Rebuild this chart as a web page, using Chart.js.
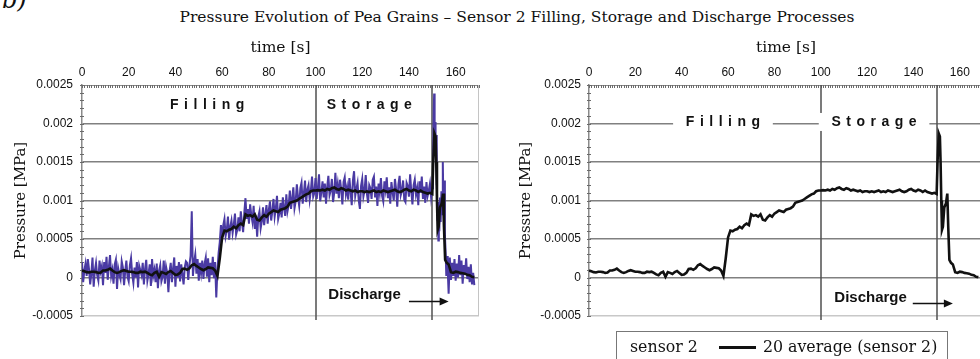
<!DOCTYPE html>
<html>
<head>
<meta charset="utf-8">
<script src="https://cdn.jsdelivr.net/npm/chart.js@4.4.1/dist/chart.umd.min.js"></script>
<style>
  html, body { margin: 0; padding: 0; background: #fff; }
  body { width: 980px; height: 359px; overflow: hidden; position: relative; }
  .box { position: absolute; top: 0; height: 359px; }
  #leftBox { left: 0; width: 490px; }
  #rightBox { left: 490px; width: 510px; }
  #tag { position: absolute; left: 2px; top: -12px; font: italic 24px/24px "DejaVu Serif"; color: #111; }
  #title { position: absolute; left: 517px; top: 7px; transform: translateX(-50%); white-space: nowrap;
           font: 15.5px/20px "DejaVu Serif"; color: #111; }
  #legend { position: absolute; left: 616px; top: 331px; width: 332px; height: 40px; box-sizing: border-box;
            border: 1.5px solid #777; padding: 5px 0 0 13px; font: 15.8px/20px "DejaVu Serif"; color: #111;
            white-space: nowrap; }
  #legend .swatch { display: inline-block; width: 37px; height: 3px; background: #111; vertical-align: middle;
                    margin: 0 7px 0 21px; }
</style>
</head>
<body>
<div id="tag">b)</div>
<div id="title">Pressure Evolution of Pea Grains – Sensor 2 Filling, Storage and Discharge Processes</div>
<div class="box" id="leftBox"><canvas id="leftChart"></canvas></div>
<div class="box" id="rightBox"><canvas id="rightChart"></canvas></div>
<div id="legend"></div>

<script>
// series names
const seriesNames = ['sensor 2', '20 average (sensor 2)'];

// sensor 2 raw signal, one reading every 0.5 s from t = 0 to t = 150 s  [MPa]
const sensorStep = 0.5;
const sensorMain = [
  2.0e-4, -0.6e-4, 0.9e-4, 1.8e-4, 0.2e-4, 2.4e-4, 1.1e-4, -0.9e-4, 0.5e-4, 2.6e-4,
  -1.2e-4, 0.9e-4, 1.9e-4, 0.3e-4, -0.4e-4, 2.2e-4, 0.8e-4, 1.5e-4, -1.0e-4, 2.0e-4,
  0.6e-4, 2.7e-4, -0.3e-4, 1.4e-4, 2.9e-4, 0.2e-4, 1.0e-4, -0.8e-4, 1.7e-4, 2.3e-4,
  -1.5e-4, 1.2e-4, 0.4e-4, -0.2e-4, 2.1e-4, 1.3e-4, -1.0e-4, 0.8e-4, 2.2e-4, 0.1e-4,
  -0.5e-4, 1.6e-4, 2.5e-4, 0.4e-4, -0.7e-4, 1.3e-4, 0, 2.0e-4, -1.3e-4, 1.5e-4,
  0.9e-4, 0.3e-4, 1.9e-4, -0.9e-4, 1.1e-4, 2.3e-4, -0.4e-4, 0.5e-4, 1.7e-4, -1.1e-4,
  2.4e-4, 0.2e-4, 1.0e-4, -0.6e-4, 1.8e-4, -1.4e-4, 0.9e-4, 1.6e-4, -0.5e-4, 0.1e-4,
  2.2e-4, -0.8e-4, 1.4e-4, 0.6e-4, -1.9e-4, 0.8e-4, 1.9e-4, -0.6e-4, 1.2e-4, 2.6e-4,
  -1.2e-4, 1.5e-4, 0, 2.0e-4, -0.5e-4, 1.7e-4, 0.4e-4, -0.9e-4, 1.3e-4, 2.1e-4,
  1.9e-4, -0.3e-4, 1.6e-4, 2.8e-4, 8.6e-4, 0.2e-4, 2.0e-4, 3.0e-4, 0.5e-4, 2.4e-4,
  -0.4e-4, 1.9e-4, 0.6e-4, 2.2e-4, -0.2e-4, 1.8e-4, 2.6e-4, 0.1e-4, 2.5e-4, -0.6e-4,
  1.9e-4, 0.3e-4, 2.7e-4, -0.1e-4, 2.0e-4, -2.6e-4, 1.0e-4, 3.2e-4, 4.6e-4, 6.8e-4,
  5.0e-4, 6.8e-4, 7.6e-4, 5.4e-4, 6.2e-4, 7.9e-4, 4.9e-4, 6.6e-4, 7.4e-4, 5.8e-4,
  6.9e-4, 8.3e-4, 5.6e-4, 6.2e-4, 7.8e-4, 6.0e-4, 8.6e-4, 7.1e-4, 5.9e-4, 8.4e-4,
  10.3e-4, 7.6e-4, 8.9e-4, 7.0e-4, 9.5e-4, 8.1e-4, 7.2e-4, 9.3e-4, 6.3e-4, 8.0e-4,
  5.3e-4, 7.9e-4, 8.6e-4, 6.4e-4, 7.3e-4, 9.1e-4, 6.8e-4, 8.2e-4, 9.4e-4, 7.0e-4,
  8.8e-4, 9.9e-4, 7.4e-4, 8.6e-4, 10.2e-4, 7.9e-4, 9.0e-4, 10.6e-4, 7.6e-4, 8.3e-4,
  9.7e-4, 7.8e-4, 10.4e-4, 9.1e-4, 8.0e-4, 10.8e-4, 8.6e-4, 9.4e-4, 11.3e-4, 8.9e-4,
  10.2e-4, 11.7e-4, 9.0e-4, 9.9e-4, 12.1e-4, 10.4e-4, 9.3e-4, 11.6e-4, 12.3e-4, 9.6e-4,
  10.9e-4, 12.6e-4, 9.8e-4, 11.4e-4, 12.0e-4, 10.1e-4, 11.3e-4, 13.1e-4, 10.5e-4, 11.0e-4,
  12.9e-4, 10.2e-4, 11.6e-4, 13.4e-4, 9.9e-4, 11.1e-4, 12.5e-4, 10.4e-4, 12.2e-4, 9.6e-4,
  11.8e-4, 13.2e-4, 10.7e-4, 11.3e-4, 12.8e-4, 9.8e-4, 11.0e-4, 13.6e-4, 10.9e-4, 12.1e-4,
  10.3e-4, 12.7e-4, 11.4e-4, 9.5e-4, 12.4e-4, 13.0e-4, 10.8e-4, 11.7e-4, 10.1e-4, 12.9e-4,
  11.2e-4, 9.4e-4, 12.6e-4, 13.8e-4, 10.6e-4, 11.5e-4, 12.3e-4, 10.0e-4, 8.9e-4, 11.9e-4,
  12.8e-4, 10.5e-4, 11.3e-4, 13.3e-4, 10.9e-4, 9.7e-4, 12.0e-4, 11.6e-4, 10.2e-4, 12.7e-4,
  13.1e-4, 10.4e-4, 11.8e-4, 9.3e-4, 12.2e-4, 11.0e-4, 12.9e-4, 10.6e-4, 9.9e-4, 12.5e-4,
  11.4e-4, 13.0e-4, 10.3e-4, 11.7e-4, 9.6e-4, 12.4e-4, 11.1e-4, 10.0e-4, 12.8e-4, 11.5e-4,
  9.2e-4, 12.1e-4, 13.2e-4, 10.7e-4, 11.3e-4, 12.6e-4, 10.1e-4, 9.8e-4, 12.3e-4, 11.9e-4,
  10.5e-4, 13.4e-4, 11.2e-4, 9.5e-4, 12.0e-4, 12.7e-4, 10.8e-4, 11.6e-4, 9.4e-4, 12.5e-4,
  11.0e-4, 13.1e-4, 10.2e-4, 11.8e-4, 9.7e-4, 12.4e-4, 10.6e-4, 11.3e-4, 12.2e-4, 10.4e-4,
  11.6e-4
];

// sensor 2 raw signal during discharge (denser readings)
const sensorDischargeTime = [
  150.3, 150.6, 150.8, 151.0, 151.2, 151.4, 151.6, 151.8, 152.0, 152.2, 152.4, 152.6, 152.8,
  153.0, 153.3, 153.6, 153.9, 154.2, 154.5, 154.8, 155.1, 155.4, 155.7, 156.0, 156.3, 156.6,
  157.0, 157.5, 158.0, 158.5, 159.0, 159.5, 160.0, 160.5, 161.0, 161.5, 162.0, 162.5, 163.0,
  163.5, 164.0, 164.5, 165.0, 165.5, 166.0, 166.5, 167.0, 167.5, 168.0
];
const sensorDischargeValue = [
  14.0e-4, 21.5e-4, 23.9e-4, 17.5e-4, 20.2e-4, 16.0e-4, 18.5e-4, 12.0e-4, 13.5e-4, 7.5e-4, 9.8e-4, 4.8e-4, 8.0e-4,
  6.0e-4, 10.4e-4, 7.2e-4, 11.2e-4, 8.2e-4, 15.0e-4, 9.0e-4, 12.6e-4, 5.5e-4, 3.4e-4, 0.2e-4, 2.8e-4, 1.0e-4,
  -2.1e-4, 2.6e-4, -0.3e-4, 1.9e-4, 0.2e-4, 2.4e-4, -0.4e-4, 1.8e-4, 0, 2.9e-4, 0.3e-4, 2.2e-4, -0.8e-4,
  1.6e-4, 0.4e-4, 2.5e-4, -0.2e-4, 1.4e-4, -0.6e-4, 1.7e-4, -0.9e-4, 0.6e-4, -1.0e-4
];

// 20-point moving average, one value per second from t = 0 to t = 150 s  [MPa]
const avgStep = 1;
const avgMain = [
  0.9e-4, 0.8e-4, 0.7e-4, 0.65e-4, 0.75e-4, 0.75e-4, 0.7e-4, 0.6e-4, 0.65e-4, 0.9e-4,
  0.9e-4, 1.0e-4, 1.15e-4, 0.9e-4, 0.7e-4, 0.6e-4, 0.7e-4, 0.85e-4, 0.95e-4, 0.85e-4,
  0.75e-4, 0.75e-4, 0.7e-4, 0.6e-4, 0.6e-4, 0.75e-4, 0.7e-4, 0.75e-4, 0.6e-4, 0.4e-4,
  0.3e-4, 0.6e-4, 0.75e-4, 0.1e-4, 0.7e-4, 0.6e-4, 0.45e-4, 0.7e-4, 0.85e-4, 0.6e-4,
  0.35e-4, 0.4e-4, 0.6e-4, 1.1e-4, 1.15e-4, 1.0e-4, 1.2e-4, 1.6e-4, 1.75e-4, 1.5e-4,
  1.3e-4, 1.1e-4, 0.95e-4, 1.1e-4, 1.3e-4, 1.25e-4, 1.2e-4, 0.9e-4, 0.2e-4, 2.5e-4,
  5.2e-4, 6.1e-4, 6.0e-4, 6.2e-4, 6.3e-4, 6.6e-4, 6.4e-4, 6.8e-4, 7.0e-4, 6.8e-4,
  8.2e-4, 8.0e-4, 8.1e-4, 7.9e-4, 8.2e-4, 7.5e-4, 7.4e-4, 7.8e-4, 8.1e-4, 7.9e-4,
  8.3e-4, 8.5e-4, 8.7e-4, 8.6e-4, 8.5e-4, 8.8e-4, 8.9e-4, 9.0e-4, 9.2e-4, 9.7e-4,
  9.8e-4, 9.9e-4, 10.0e-4, 10.2e-4, 10.4e-4, 10.6e-4, 10.8e-4, 10.9e-4, 11.2e-4, 11.3e-4,
  11.3e-4, 11.35e-4, 11.3e-4, 11.4e-4, 11.3e-4, 11.5e-4, 11.4e-4, 11.6e-4, 11.7e-4, 11.5e-4,
  11.4e-4, 11.6e-4, 11.5e-4, 11.3e-4, 11.4e-4, 11.3e-4, 11.2e-4, 11.3e-4, 11.1e-4, 11.2e-4,
  11.2e-4, 11.1e-4, 11.2e-4, 11.1e-4, 11.2e-4, 11.3e-4, 11.1e-4, 11.2e-4, 11.1e-4, 11.3e-4,
  11.2e-4, 11.1e-4, 11.2e-4, 11.3e-4, 11.4e-4, 11.2e-4, 11.1e-4, 11.2e-4, 11.4e-4, 11.5e-4,
  11.3e-4, 11.2e-4, 11.4e-4, 11.3e-4, 11.1e-4, 11.3e-4, 11.1e-4, 11.0e-4, 10.9e-4, 11.0e-4,
  10.85e-4
];
const avgDischargeTime = [
  150.4, 150.9, 151.4, 151.7, 152.0, 152.3, 152.7, 153.3, 154.0, 154.6, 155.0, 155.5, 156.2,
  157, 158, 159, 160, 161, 162, 163, 164, 165, 166, 167, 168
];
const avgDischargeValue = [
  15.1e-4, 18.7e-4, 18.3e-4, 15.0e-4, 10.0e-4, 6.2e-4, 6.6e-4, 9.1e-4, 9.6e-4, 10.9e-4, 6.6e-4, 2.3e-4, 1.9e-4,
  1.7e-4, 0.7e-4, 0.6e-4, 0.75e-4, 0.7e-4, 0.6e-4, 0.55e-4, 0.5e-4, 0.35e-4, 0.3e-4, 0.1e-4, 0.05e-4
];

// axes
const timeTicks = [0, 20, 40, 60, 80, 100, 120, 140, 160];
const pressureTicks = [-0.0005, 0, 0.0005, 0.001, 0.0015, 0.002, 0.0025];
const phaseBounds = [100, 150];

function toPoints(step, values, times, tail) {
  const pts = values.map((v, i) => ({ x: i * step, y: v }));
  return pts.concat(times.map((t, i) => ({ x: t, y: tail[i] })));
}
const sensorPoints = toPoints(sensorStep, sensorMain, sensorDischargeTime, sensorDischargeValue);
const avgPoints = toPoints(avgStep, avgMain, avgDischargeTime, avgDischargeValue);

const serif = 'DejaVu Serif';
const sans = 'Liberation Sans';

// frame decorations, phase separators and phase labels
const phasePlugin = {
  id: 'phases',
  beforeDatasetsDraw(chart, args, opts) {
    const { ctx, chartArea: a, scales: { x, y } } = chart;
    ctx.save();
    ctx.lineWidth = 1;
    ctx.strokeStyle = '#c4c4c4';
    ctx.beginPath();
    ctx.moveTo(a.right - 0.5, a.top);
    ctx.lineTo(a.right - 0.5, a.bottom);
    ctx.stroke();
    // minor ticks
    ctx.strokeStyle = '#6a6a6a';
    ctx.beginPath();
    for (let t = 0; t <= x.max; t += 1) {
      const px = Math.round(x.getPixelForValue(t)) + 0.5;
      ctx.moveTo(px, a.top);
      ctx.lineTo(px, a.top + 3);
    }
    for (let k = -5; k <= 25; k++) {
      const py = Math.round(y.getPixelForValue(k / 10000)) + 0.5;
      ctx.moveTo(a.left - 2, py);
      ctx.lineTo(a.left + 2, py);
    }
    ctx.stroke();
    // phase separators
    ctx.strokeStyle = '#505050';
    ctx.lineWidth = 1.5;
    ctx.beginPath();
    phaseBounds.forEach(t => {
      const px = Math.round(x.getPixelForValue(t));
      ctx.moveTo(px, a.top);
      ctx.lineTo(px, a.bottom + 4);
    });
    ctx.stroke();
    ctx.restore();
  },
  afterDatasetsDraw(chart, args, opts) {
    const { ctx, scales: { x, y } } = chart;
    ctx.save();
    ctx.fillStyle = '#111';
    ctx.textAlign = 'center';
    ctx.textBaseline = 'middle';
    opts.labels.forEach(l => {
      ctx.font = 'bold ' + l.size + 'px "' + sans + '"';
      ctx.letterSpacing = (l.spacing || 0) + 'px';
      const px = x.getPixelForValue(l.x);
      const py = y.getPixelForValue(l.y);
      const w = ctx.measureText(l.text).width;
      if (opts.knockout && l.spacing) {
        ctx.fillStyle = '#fff';
        ctx.fillRect(px - w / 2 - 10, py - 9, w + 20, 18);
        ctx.fillStyle = '#111';
      }
      ctx.fillText(l.text, px + (l.spacing || 0) / 2, py);
    });
    ctx.letterSpacing = '0px';
    const ar = opts.arrow;
    const x1 = x.getPixelForValue(ar.from), x2 = x.getPixelForValue(ar.to);
    const py = Math.round(y.getPixelForValue(ar.y)) + 0.5;
    ctx.strokeStyle = '#111';
    ctx.lineWidth = 1.5;
    ctx.beginPath();
    ctx.moveTo(x1, py);
    ctx.lineTo(x2 - 6, py);
    ctx.stroke();
    ctx.beginPath();
    ctx.moveTo(x2, py);
    ctx.lineTo(x2 - 9, py - 4);
    ctx.lineTo(x2 - 9, py + 4);
    ctx.closePath();
    ctx.fill();
    ctx.restore();
  }
};

function makeOptions(cfg) {
  return {
    responsive: true,
    maintainAspectRatio: false,
    animation: false,
    layout: { padding: { top: 30, left: 0, right: cfg.rightPad, bottom: 43 } },
    elements: { point: { radius: 0 }, line: { tension: 0 } },
    scales: {
      x: {
        type: 'linear', position: 'top', min: 0, max: 170,
        afterBuildTicks: s => { s.ticks = timeTicks.map(v => ({ value: v })); },
        afterFit: s => { s.height = 55; },
        grid: { display: false, drawTicks: false },
        border: { display: true, color: '#8a8a8a', width: 1 },
        ticks: { padding: 5, maxRotation: 0, autoSkip: false, color: '#111', font: { family: sans, size: 12 } },
        title: { display: true, text: 'time [s]', color: '#111', font: { family: serif, size: 15.5 }, padding: { top: 9, bottom: 0 } }
      },
      y: {
        type: 'linear', min: -0.0005, max: 0.0025,
        afterBuildTicks: s => { s.ticks = pressureTicks.map(v => ({ value: v })); },
        afterFit: s => { s.width = cfg.axisWidth; },
        grid: {
          drawTicks: false,
          lineWidth: 1.5,
          color: c => c.tick.value === -0.0005 ? '#c8c8c8' : (c.tick.value === 0.0025 ? 'rgba(0,0,0,0)' : '#808080')
        },
        border: { color: '#8a8a8a', width: 1.5 },
        ticks: { padding: cfg.tickPad, color: '#111', font: { family: sans, size: 12 }, callback: v => String(v) },
        title: { display: true, text: 'Pressure [MPa]', color: '#111', font: { family: serif, size: 15 }, padding: { top: cfg.titlePad, bottom: 0 } }
      }
    },
    plugins: {
      legend: { display: false },
      tooltip: { enabled: false },
      phases: { knockout: cfg.knockout, labels: cfg.labels, arrow: cfg.arrow }
    }
  };
}

const avgDataset = {
  label: seriesNames[1], data: avgPoints, borderColor: '#111', borderWidth: 2.6, order: 0
};

new Chart(document.getElementById('leftChart'), {
  type: 'line',
  data: {
    datasets: [
      avgDataset,
      { label: seriesNames[0], data: sensorPoints, borderColor: '#4a3aa3', borderWidth: 2, order: 1 }
    ]
  },
  options: makeOptions({
    rightPad: 11, axisWidth: 82, tickPad: 9, titlePad: 12, knockout: false,
    labels: [
      { text: 'Filling', x: 53.6, y: 0.00224, size: 14, spacing: 5.5 },
      { text: 'Storage', x: 123, y: 0.00224, size: 14, spacing: 5.5 },
      { text: 'Discharge', x: 121, y: -0.00022, size: 15 }
    ],
    arrow: { from: 140, to: 157, y: -0.00031 }
  }),
  plugins: [phasePlugin]
});

new Chart(document.getElementById('rightChart'), {
  type: 'line',
  data: { datasets: [Object.assign({}, avgDataset)] },
  options: makeOptions({
    rightPad: 17, axisWidth: 99, tickPad: 8, titlePad: 27, knockout: true,
    labels: [
      { text: 'Filling', x: 57.8, y: 0.00202, size: 14, spacing: 5.5 },
      { text: 'Storage', x: 123, y: 0.00202, size: 14, spacing: 5.5 },
      { text: 'Discharge', x: 121.5, y: -0.00026, size: 15 }
    ],
    arrow: { from: 139.7, to: 157, y: -0.00033 }
  }),
  plugins: [phasePlugin]
});

// legend for the right panel
const legend = document.getElementById('legend');
const first = document.createElement('span');
first.textContent = seriesNames[0];
const swatch = document.createElement('span');
swatch.className = 'swatch';
const second = document.createElement('span');
second.textContent = seriesNames[1];
legend.append(first, swatch, second);
</script>
</body>
</html>
